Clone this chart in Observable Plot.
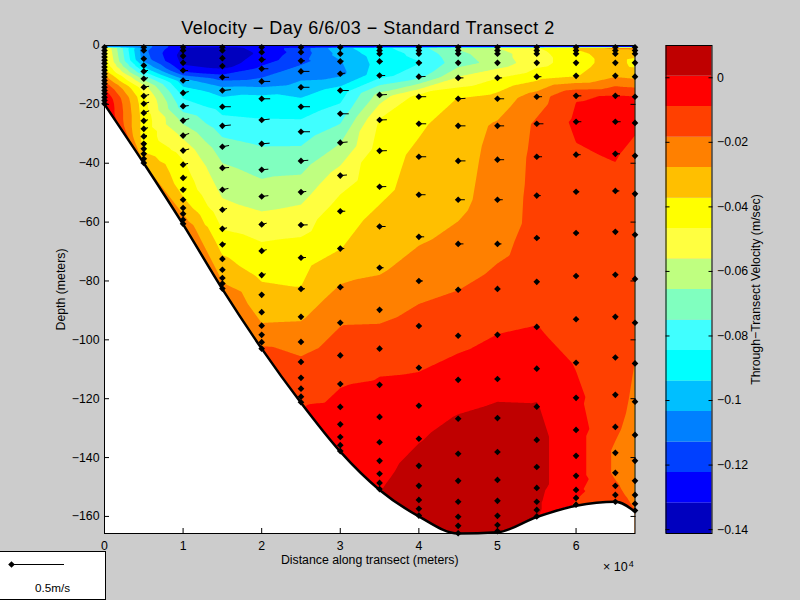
<!DOCTYPE html>
<html>
<head>
<meta charset="utf-8">
<script src="https://cdn.jsdelivr.net/npm/d3@7"></script>
<script src="https://cdn.jsdelivr.net/npm/@observablehq/plot@0.6"></script>
<style>
  html, body { margin: 0; padding: 0; background: #cccccc; width: 800px; height: 600px; overflow: hidden; font-family: "Liberation Sans", sans-serif; color: #000; }
  #chart, #bar { position: absolute; left: 0; top: 0; }
  .t { position: absolute; white-space: nowrap; }
  #title { left: 0; width: 736px; top: 18px; text-align: center; font-size: 18px; letter-spacing: 0.5px; }
  #mult { left: 603px; top: 560px; font-size: 12.5px; }
  #mult sup { font-size: 9px; position: relative; top: -1px; vertical-align: top; margin-left: 1px; line-height: 10px; }
  #key { position: absolute; left: -1px; top: 551px; width: 105px; height: 47px; background: #fff; border: 1px solid #000; }
  #keytext { left: 35px; top: 29px; font-size: 11.7px; }
  svg { background: transparent !important; }
</style>
</head>
<body>
<div id="chart"></div>
<div id="bar"></div>
<div class="t" id="title">Velocity − Day 6/6/03 − Standard Transect 2</div>
<div class="t" id="mult">× 10<sup>4</sup></div>
<div id="key"><div id="keyplot"></div><div class="t" id="keytext">0.5m/s</div></div>
<script>
const stations = [0,5000,10000,15000,20000,25000,30000,35000,40000,45000,50000,55000,60000,65000,67500];

const depths = [
 [.6,1.7,2.8,3.9,5,6.1,7.3,8.4,9.6,10.7,11.9,13,14.2,15.3,16.4,17.6,18.7,19.8],
 [.6,1.7,4.5,6.8,8.8,11.3,14.2,17.2,19.8,22.9,25.6,28.3,30.9,33.4,35.1,36.8,38.5,39.9],
 [.6,1.7,3.6,5.9,8.5,11.9,16.1,20.6,25.5,30.6,35.7,40.5,45,49,52.4,55.2,57.2,59.2,60.6],
 [.6,1.7,4.3,7,10.8,15.3,20.8,27.3,34.4,41.6,49,55.8,62.3,67.6,72.5,76.2,79,80.9,82.6],
 [.6,2.3,4.8,7.9,12.2,18.1,25.3,33.4,42.2,51.3,60.8,69.8,78,84.7,90.6,95.2,98.3,100.8,103],
 [.6,2.3,5.2,8.8,14.2,20.8,29.3,39.2,49.8,61,72.1,82.7,92.2,100.7,107.5,112.9,116.6,119.3,121.2],
 [.6,2.8,5.4,9.6,15.3,23.2,33,44.2,56.3,69,82.1,94.2,105.3,115,122.8,128.7,133,135.8,137.8],
 [.6,1.7,2.8,5.4,10.2,16.8,25.3,35.8,48,61.5,75.5,89.8,103,115.3,126.2,134.8,141.1,145.5,148.6,150.7],
 [.6,1.7,2.8,5.9,10.6,17.4,26.6,37.8,50.7,65,80,95.3,109.5,122.4,133.6,142.8,149.6,154.4,157.4,159.7],
 [.6,1.7,2.8,5.9,11,18.1,27.3,39.2,52.4,67.4,83,98.6,113.6,126.8,138.7,147.9,155,160.1,163.2,165.7],
 [.6,1.7,2.8,5.9,11,18.1,27.3,38.8,52.4,67.4,82.7,98.3,113.3,126.6,138.1,147.6,154.7,159.8,162.9,165],
 [.6,1.7,2.8,5.9,10.6,17.4,26.6,37.8,51,65.4,80.3,95.6,109.8,122.7,134,143.2,150.3,155,157.8,160],
 [.6,1.7,2.8,5.9,10.3,17.1,25.9,37.1,49.7,63.7,78.3,93,107.8,119.7,130.6,139.4,146.2,151,153.7,156],
 [.6,1.7,2.8,5.9,10.3,17.1,25.9,36.8,49.4,63.3,77.9,92.2,106,118.7,129.6,138.4,145.2,149.6,152.7,155],
 [.6,1.7,2.8,5.9,10.6,17.4,26.3,37.5,50.4,64.3,79.3,94.2,108,121,132.3,141.1,147.9,152.7,155.7,158]
];

const velocity = [
 [-.045,-.044,-.043,-.042,-.041,-.04,-.038,-.035,-.03,-.025,-.02,-.015,-.011,-.007,-.004,-.001,.001,.002],
 [-.108,-.11,-.108,-.097,-.085,-.068,-.052,-.045,-.043,-.042,-.041,-.041,-.041,-.04,-.039,-.036,-.032,-.028],
 [-.131,-.134,-.136,-.134,-.125,-.1,-.088,-.08,-.068,-.058,-.05,-.045,-.042,-.04,-.036,-.032,-.028,-.025,-.021],
 [-.136,-.137,-.139,-.136,-.118,-.098,-.088,-.08,-.071,-.064,-.0585,-.053,-.047,-.041,-.036,-.032,-.029,-.027,-.022],
 [-.128,-.13,-.127,-.12,-.11,-.09,-.084,-.076,-.068,-.061,-.052,-.044,-.039,-.034,-.031,-.027,-.024,-.021,-.017],
 [-.118,-.118,-.116,-.108,-.1,-.089,-.08,-.07,-.06,-.05,-.041,-.037,-.029,-.022,-.017,-.014,-.012,-.011,-.0095],
 [-.097,-.1,-.104,-.106,-.09,-.08,-.066,-.052,-.042,-.0375,-.027,-.019,-.014,-.0092,-.0075,-.005,-.005,-.004,-.003],
 [-.087,-.088,-.089,-.09,-.088,-.062,-.046,-.042,-.04,-.034,-.029,-.022,-.012,-.008,-.004,-.002,-.001,-.0005,0,.0003],
 [-.078,-.08,-.082,-.085,-.078,-.043,-.039,-.035,-.033,-.029,-.023,-.014,-.0095,-.004,.0002,.002,.003,.003,.003,.003],
 [-.064,-.066,-.068,-.07,-.055,-.037,-.032,-.031,-.03,-.0255,-.0185,-.0115,-.005,.0012,.003,.004,.004,.004,.004,.004],
 [-.055,-.058,-.06,-.062,-.047,-.033,-.0265,-.025,-.024,-.021,-.015,-.0088,-.003,.003,.004,.005,.004,.004,.004,.004],
 [-.047,-.049,-.05,-.05,-.041,-.023,-.017,-.016,-.0155,-.015,-.0125,-.0087,-.003,.001,.003,.003,.003,.002,.002,.001],
 [-.035,-.038,-.04,-.042,-.038,-.0095,-.007,-.01,-.012,-.013,-.0135,-.0125,-.0095,-.007,-.005,-.005,-.005,-.007,-.0085,-.01],
 [-.024,-.03,-.032,-.032,-.029,-.0085,-.0065,-.008,-.012,-.014,-.014,-.0145,-.015,-.015,-.0165,-.02,-.02,-.017,-.015,-.013],
 [-.023,-.03,-.034,-.041,-.03,-.0085,-.007,-.012,-.013,-.0145,-.016,-.0175,-.0185,-.02,-.023,-.024,-.024,-.022,-.02,-.018]
];

// Along-transect velocity (m/s) and its vertical part; values past the end of a list are zero.
const along = [
 [],
 [0,0,.01,.02,.04,.04,.05,.05,.05,.05,.04,.04,.03,.02,.02,.01,.01],
 [0,0,0,.01,.047,.057,.053,.053,.057,.057,.057,.047,.038,.031,.01],
 [0,0,0,.005,.063,.08,.08,.08,.063,.063,.057,.044,.044,.031,.01],
 [0,0,.038,.063,.08,.08,.075,.075,.063,.063,.047,.047,.038],
 [0,0,.038,.08,.08,.085,.085,.069,.05,.063,.047,.038],
 [0,0,.03,.047,.08,.08,.069,.063,.047,.038,.03],
 [0,0,0,.03,.053,.069,.069,.069,.063,.057,.038],
 [0,0,0,.03,.063,.069,.069,.069,.063,.05,.038],
 [0,0,0,.015,.05,.069,.069,.069,.063,.05,.025],
 [0,0,0,0,.044,.063,.063,.063,.05,.038],
 [0,0,0,0,.044,.05,.063,.05,.038,.03],
 [0,0,0,0,.02,.05,.05,.044,.03,.025],
 [0,0,0,0,.015,.044,.05,.044,.038,.025],
 []
];
const upward = [
 [],
 [0,0,0,.005,.01,.01,.01,.015,.015,.02,.01,.01,.01,.01,.005],
 [0,0,0,0,0,0,.012,.005,.018,.02,.015,.012,.01,.01],
 [0,0,0,0,0,.008,0,.008,.012,.004,.012,.012,.01,.01],
 [0,0,.004,0,0,0,.008,.006,.005,.008,.012,.012,.012],
 [0,0,0,0,0,0,0,.006,.006,.002,.002,.002],
 [0,0,.004,.006,0,0,.006,.006],
 [0,0,0,0,0,.004,.002,.002,.002],
 [0,0,0,0,.002],
 [0,0,0,0,0,.004],
 [],[],[],[],[]
];

const seabedX = [0,5000,10000,15000,20000,25000,30000,35000,40000,45000,50000,55000,60000,65000,67500];
const seabedDepth = [20,40,60.8,82.8,103,121.4,138,151,160,165.8,165.4,160.2,156.4,155,158.4];

const bandColors = ["#0000BF","#0000FF","#0040FF","#0080FF","#00BFFF","#00FFFF","#40FFFF","#80FFBF","#BFFF80","#FFFF40","#FFFF00","#FFBF00","#FF8000","#FF4000","#FF0000","#BF0000"];
const bandEdges = [-.1412,-.1318,-.1223,-.1129,-.1034,-.094,-.0845,-.0751,-.0656,-.0562,-.0467,-.0373,-.0278,-.0184,-.0089,.0005,.01];
const xTicks = [0,10000,20000,30000,40000,50000,60000];
const yTicks = [0,-20,-40,-60,-80,-100,-120,-140,-160];
const barTicks = [0,-.02,-.04,-.06,-.08,-.1,-.12,-.14];

const samples = stations.flatMap((x, i) => depths[i].map((d, j) => ({
  x, y: -d, v: velocity[i][j], u: along[i][j] ?? 0, w: upward[i][j] ?? 0
})));
const seabed = seabedX.map((x, i) => ({x, y: -seabedDepth[i]}));
const bands = bandColors.map((c, i) => ({c, y1: bandEdges[i], y2: bandEdges[i + 1]}));
const minus = d => String(d).replace("-", "−");
const blank = () => "";

// 1 m/s draws 106 px on the reference: 13486 m along x, 36 m along y
const chart = Plot.plot({
  width: 800, height: 600,
  marginLeft: 104, marginRight: 165.5, marginTop: 45, marginBottom: 67,
  style: {fontFamily: "'Liberation Sans', sans-serif", fontSize: "12.3px", color: "#000", background: "transparent"},
  x: {domain: [0, 67500]},
  y: {domain: [-165.8, 0]},
  color: {type: "threshold", domain: bandEdges.slice(1, -1), range: bandColors},
  marks: [
    Plot.frame({fill: "white", stroke: "none"}),
    Plot.contour(samples, {x: "x", y: "y", value: "v", fill: "value", interpolate: "barycentric",
      thresholds: [-.3, ...bandEdges.slice(1, -1)], pixelSize: 1, clip: true}),
    Plot.areaY(seabed, {x: "x", y1: "y", y2: -165.8, fill: "white", curve: "monotone-x"}),
    Plot.line(seabed, {x: "x", y: "y", stroke: "black", strokeWidth: 2.5, curve: "monotone-x"}),
    Plot.link(samples.filter(d => d.u > 0), {x1: "x", y1: "y", x2: d => d.x + d.u * 13486, y2: d => d.y + d.w * 36, stroke: "black", strokeWidth: 1}),
    Plot.dot(samples, {x: "x", y: "y", r: 3, symbol: "diamond2", fill: "black", clip: false}),
    Plot.frame({stroke: "black", fill: "none"}),
    Plot.axisX({ticks: xTicks, tickFormat: d => d / 10000, tickSize: -5, tickPadding: 13, anchor: "bottom",
      label: "Distance along transect (meters)", labelAnchor: "center", labelOffset: 30, labelArrow: "none"}),
    Plot.axisX({ticks: xTicks, tickFormat: blank, tickSize: -5, anchor: "top", label: null}),
    Plot.axisY({ticks: yTicks, tickFormat: minus, tickSize: -5, tickPadding: 10, anchor: "left",
      label: "Depth (meters)", labelAnchor: "center", labelOffset: 48, labelArrow: "none"}),
    Plot.axisY({ticks: yTicks, tickFormat: blank, tickSize: -5, anchor: "right", label: null})
  ]
});
document.getElementById("chart").append(chart);

const bar = Plot.plot({
  width: 800, height: 600,
  marginLeft: 665.5, marginRight: 88.5, marginTop: 45, marginBottom: 67,
  style: {fontFamily: "'Liberation Sans', sans-serif", fontSize: "12.3px", color: "#000", background: "transparent"},
  x: {domain: [0, 1], axis: null},
  y: {domain: [-.1412, .01]},
  marks: [
    Plot.rect(bands, {x1: 0, x2: 1, y1: "y1", y2: "y2", fill: "c"}),
    Plot.frame({stroke: "black", fill: "none"}),
    Plot.axisY({ticks: barTicks, tickFormat: minus, tickSize: -4, tickPadding: 9, anchor: "right",
      label: "Through−Transect Velocity (m/sec)", labelAnchor: "center", labelOffset: 48, labelArrow: "none"}),
    Plot.axisY({ticks: barTicks, tickFormat: blank, tickSize: -4, anchor: "left", label: null})
  ]
});
document.getElementById("bar").append(bar);

const keyValue = [0.5];
const keyPlot = Plot.plot({
  width: 105, height: 24, marginLeft: 11, marginRight: 41, marginTop: 0, marginBottom: 0,
  style: {background: "transparent"},
  x: {domain: [0, .5], axis: null},
  y: {domain: [-1, 1], axis: null},
  marks: [
    Plot.ruleY([0], {x1: 0, x2: keyValue[0], stroke: "black", strokeWidth: 1}),
    Plot.dot([0], {x: d => d, y: 0, r: 3, symbol: "diamond2", fill: "black"})
  ]
});
document.getElementById("keyplot").append(keyPlot);
</script>
</body>
</html>
